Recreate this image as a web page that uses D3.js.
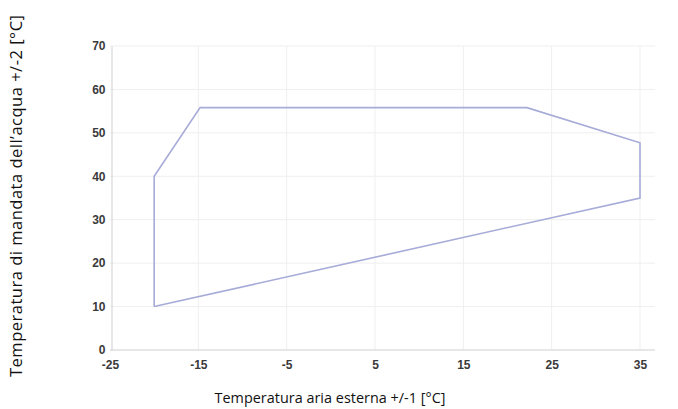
<!DOCTYPE html>
<html><head><meta charset="utf-8">
<script src="https://cdn.jsdelivr.net/npm/d3@7"></script>
<style>body{margin:0;background:#fff}svg{display:block}</style>
</head><body>
<svg id="c" width="678" height="409"></svg>
<script>
const xTicks = [-25, -15, -5, 5, 15, 25, 35];
const yTicks = [0, 10, 20, 30, 40, 50, 60, 70];
const envelopeX = [-20, -20, -14.8, 22.2, 35, 35, -20];
const envelopeY = [10, 40, 55.8, 55.8, 47.7, 35, 10];
const xTitle = "Temperatura aria esterna +/-1 [°C]";
const yTitle = "Temperatura di mandata dell’acqua +/-2 [°C]";

const svg = d3.select("#c");
const x = d3.scaleLinear().domain([-25, 35]).range([110, 640]);
const y = d3.scaleLinear().domain([0, 70]).range([350, 46]);
const right = 655;

// gridlines
svg.append("g").selectAll("line.v").data(xTicks.slice(1)).join("line")
  .attr("x1", d => x(d)).attr("x2", d => x(d)).attr("y1", y(70)).attr("y2", y(0))
  .attr("stroke", "#efefef").attr("stroke-width", 1);
svg.append("g").selectAll("line.h").data(yTicks.slice(1)).join("line")
  .attr("x1", x(-25)).attr("x2", right).attr("y1", d => y(d)).attr("y2", d => y(d))
  .attr("stroke", "#efefef").attr("stroke-width", 1);

// axes
const xAxis = d3.axisBottom(x).tickValues(xTicks).tickSize(0).tickPadding(8).tickFormat(d => String(d));
const gx = svg.append("g").attr("transform", `translate(0,${y(0)})`).call(xAxis);
gx.select(".domain").attr("d", `M${x(-25)},0H${right}`).attr("stroke", "#cfcfcf");
const yAxis = d3.axisLeft(y).tickValues(yTicks).tickSize(0).tickPadding(6).tickFormat(d => String(d));
const gy = svg.append("g").attr("transform", `translate(${x(-25) + 1.5},0)`).call(yAxis);
gy.select(".domain").attr("stroke", "#cfcfcf");
svg.selectAll(".tick text").attr("font-family", "Liberation Sans, Arial, sans-serif")
  .attr("font-size", 12).attr("font-weight", "bold").attr("fill", "#3a3a3a");
gx.selectAll(".tick text").attr("dy", "0.9em");

// envelope
const pts = envelopeX.map((v, i) => [v, envelopeY[i]]);
svg.append("path").datum(pts)
  .attr("d", d3.line().x(d => x(d[0])).y(d => y(d[1])))
  .attr("fill", "none").attr("stroke", "#a6abd8").attr("stroke-width", 1.6);

// titles
svg.append("text").attr("x", 330).attr("y", 403).attr("text-anchor", "middle")
  .attr("font-family", "Open Sans, sans-serif").attr("font-size", 14.4).attr("fill", "#111")
  .attr("textLength", 231).attr("lengthAdjust", "spacing")
  .text(xTitle);
svg.append("text").attr("transform", "translate(22,196) rotate(-90)").attr("text-anchor", "middle")
  .attr("font-family", "Open Sans, sans-serif").attr("font-size", 16.5).attr("fill", "#111")
  .attr("textLength", 362).attr("lengthAdjust", "spacing")
  .text(yTitle);
</script>
</body></html>
